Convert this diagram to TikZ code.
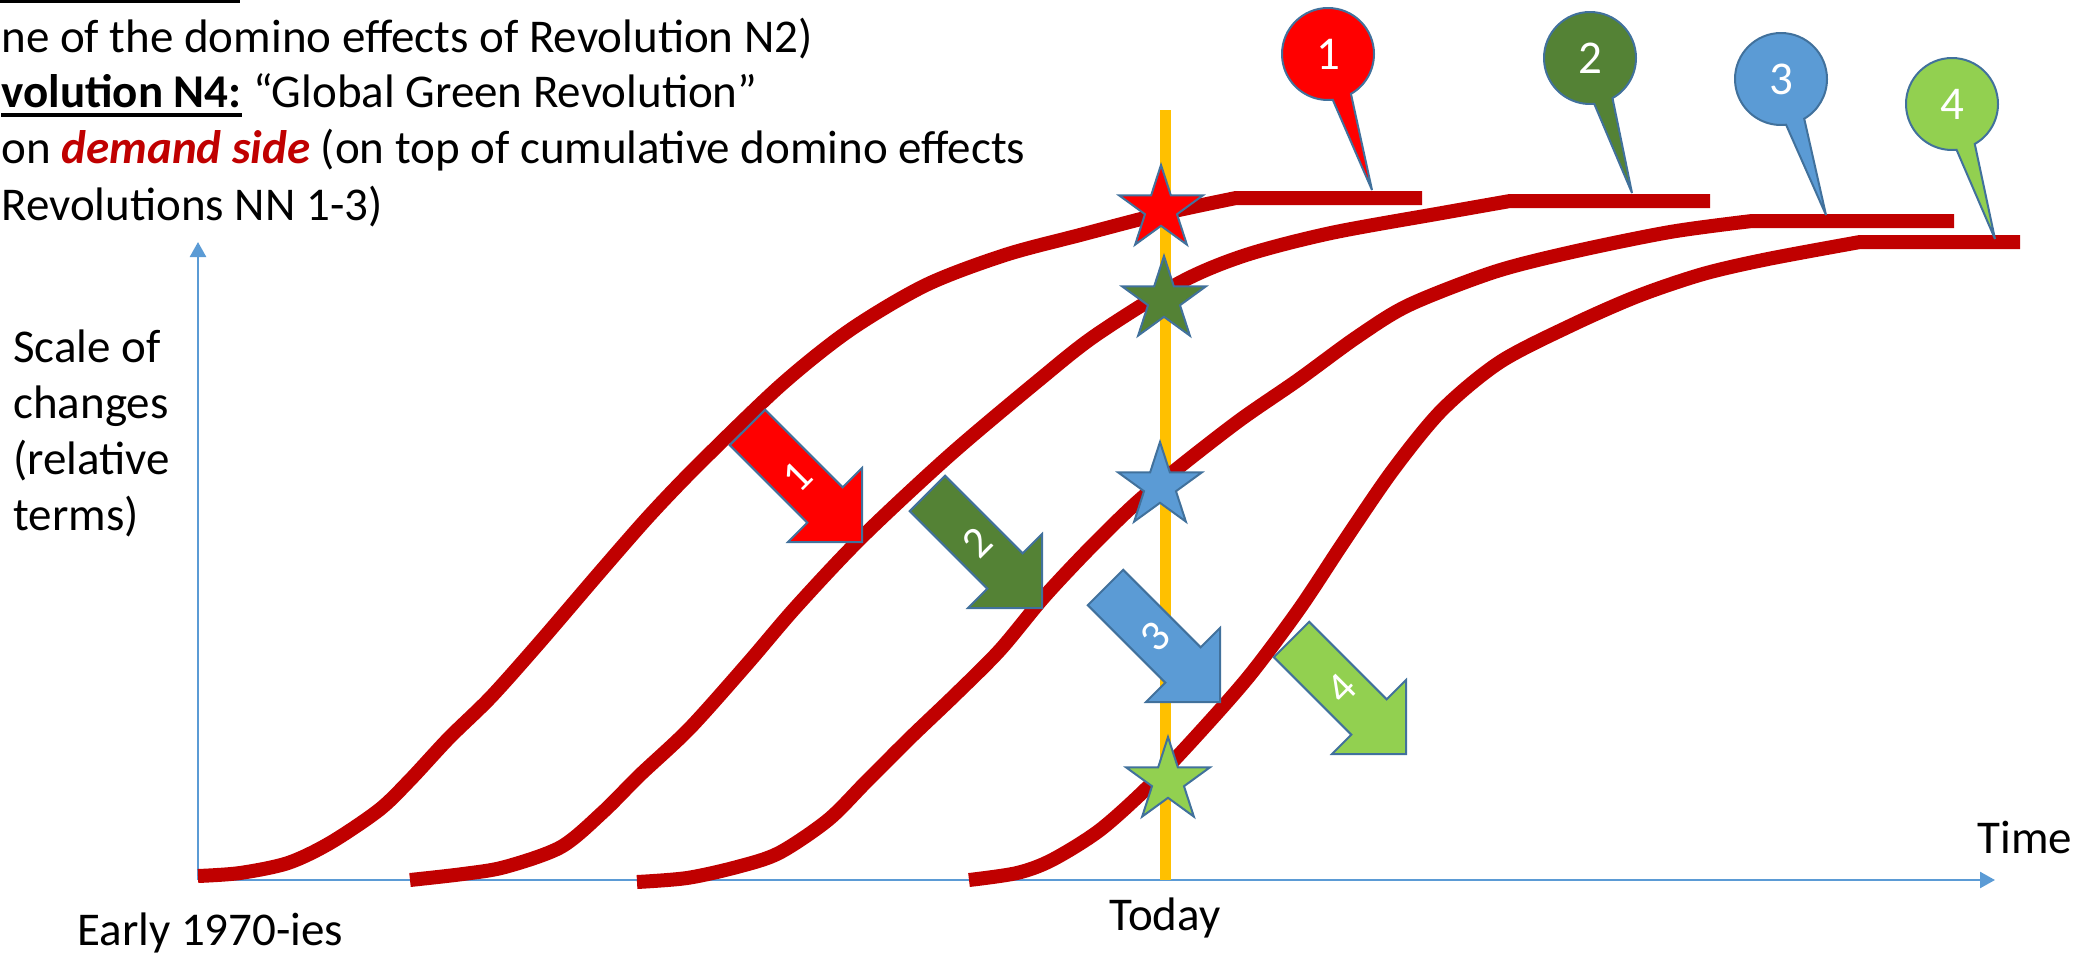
\documentclass[tikz,border=0pt]{standalone}
\usepackage{fontspec}
\setmainfont{Carlito}
\usetikzlibrary{arrows.meta,shapes.geometric,shapes.callouts}
\definecolor{axisblue}{HTML}{5B9BD5}
\definecolor{curvered}{HTML}{C00000}
\definecolor{todayorange}{HTML}{FFC000}
\definecolor{edgeblue}{HTML}{41719C}
\definecolor{revred}{HTML}{FF0000}
\definecolor{revdkgreen}{HTML}{548235}
\definecolor{revblue}{HTML}{5B9BD5}
\definecolor{revltgreen}{HTML}{92D050}
\definecolor{textred}{HTML}{C00000}
\newcommand{\drawrevarrow}[4]{%
  \begin{scope}[shift={#1}, rotate=-45]
    \filldraw[blockarrow, fill=#2] (0,0) -- (-52.3,-52.3) -- (-52.3,-25) -- (-162,-25) -- (-162,25) -- (-52.3,25) -- (-52.3,52.3) -- cycle;
    \node[arrowtxt] (#4) at (-92,0) {#3};
  \end{scope}}
\begin{document}
\begin{tikzpicture}[x=0.5pt,y=-0.5pt,
  txt/.style={inner sep=0pt, anchor=base west, font=\fontsize{23.5pt}{28pt}\selectfont},
  uline/.style={draw=black, line width=1.6pt},
  axisline/.style={draw=axisblue, line width=1.25pt, -{Triangle[length=7.5pt,width=8pt]}},
  todayline/.style={draw=todayorange, line width=5.5pt},
  scurve/.style={draw=curvered, line width=7pt, line join=round},
  blockarrow/.style={draw=edgeblue, line width=1pt, line join=miter},
  arrowtxt/.style={text=white, inner sep=0pt, rotate=45, font=\fontsize{22pt}{26pt}\selectfont},
  revstar/.style={star, star points=5, star point ratio=2.618, minimum size=44pt, inner sep=0pt, draw=edgeblue, line width=1pt},
  balloon/.style={ellipse callout, draw=edgeblue, line width=1pt, minimum width=46pt, minimum height=46pt, inner sep=0pt, callout pointer arc=24, text=white, font=\fontsize{23.5pt}{28pt}\selectfont}]
\useasboundingbox (0,0) rectangle (2074,954);

% top fragment of an underline from the cut-off line above
\coordinate (ulA) at (0,1);
\coordinate (ulB) at (240,1);
\draw[uline] (ulA) -- (ulB);

% text block
\node[txt] (l1) at (1,52) {ne of the domino effects of Revolution N2)};
\node[txt] (l2a) at (1,107) {\bfseries volution N4:};
\node[txt] (l2b) at ([xshift=5.3pt]l2a.base east) {“Global Green Revolution”};
\draw[uline] ([yshift=-4pt]l2a.base west) -- ([yshift=-4pt]l2a.base east);
\node[txt] (l3) at (1,163) {on {\bfseries\itshape\color{textred}demand side} (on top of cumulative domino effects};
\node[txt] (l4) at (1,220) {Revolutions NN 1-3)};

% axis labels
\node[txt] (yl1) at (13,362) {Scale of};
\node[txt] (yl2) at (13,418) {changes};
\node[txt] (yl3) at (13,474) {(relative};
\node[txt] (yl4) at (13,530) {terms)};
\node[txt] (early) at (77,945) {Early 1970-ies};
\node[txt] (today) at (1109,930) {Today};
\node[txt] (time) at (1977,853) {Time};

% axes
\coordinate (origin) at (198,880);
\coordinate (ytop) at (198,242);
\coordinate (xend) at (1995,880);
\draw[axisline] (origin) -- (ytop);
\draw[axisline] (origin) -- (xend);

% today line
\coordinate (todaytop) at (1165,110);
\coordinate (todaybot) at (1165,880);
\draw[todayline] (todaytop) -- (todaybot);

% S-curves
\draw[scurve] plot[smooth] coordinates {(198,876) (240,873) (288,863) (330,843) (379,810) (410,780) (449,738) (491,697) (540,642) (600,572) (650,515) (700,463) (781,385) (850,330) (926,285) (1005,255) (1080,235) (1161,214) (1236,198)} -- (1422,198);
\draw[scurve] plot[smooth] coordinates {(410,880) (463,874) (505,867) (561,847) (603,812) (640,775) (690,728) (748,663) (796,607) (862,537) (950,455) (1039,380) (1096,335) (1181,282) (1246,255) (1331,233) (1442,213) (1510,201)} -- (1710,201);
\draw[scurve] plot[smooth] coordinates {(637,882) (687,878) (737,867) (779,853) (828,820) (866,782) (910,738) (955,695) (1000,650) (1044,597) (1090,548) (1135,504) (1178,468) (1240,420) (1298,380) (1357,337) (1409,305) (1494,272) (1572,252) (1670,232) (1752,221)} -- (1954,221);
\draw[scurve] plot[smooth] coordinates {(969,880) (1017,873) (1052,860) (1100,830) (1150,785) (1200,732) (1250,675) (1300,608) (1345,540) (1393,470) (1442,410) (1500,362) (1572,325) (1638,296) (1703,274) (1768,259) (1860,242)} -- (2020,242);

% block arrows
\drawrevarrow{(862,542)}{revred}{1}{a1}
\drawrevarrow{(1042,608)}{revdkgreen}{2}{a2}
\drawrevarrow{(1220,702)}{revblue}{3}{a3}
\drawrevarrow{(1406,754)}{revltgreen}{4}{a4}

% stars on the today line
\node[revstar, fill=revred] (s1) at (1161,209) {};
\node[revstar, fill=revdkgreen] (s2) at (1164,300) {};
\node[revstar, fill=revblue] (s3) at (1160,486) {};
\node[revstar, fill=revltgreen] (s4) at (1168,781) {};

% balloons
\coordinate (p1) at (1372,190);
\coordinate (p2) at (1632,193);
\coordinate (p3) at (1826,215);
\coordinate (p4) at (1995,239);
\node[balloon, fill=revred, callout absolute pointer={(p1)}] (b1) at (1328,54) {1};
\node[balloon, fill=revdkgreen, callout absolute pointer={(p2)}] (b2) at (1590,58) {2};
\node[balloon, fill=revblue, callout absolute pointer={(p3)}] (b3) at (1781,79) {3};
\node[balloon, fill=revltgreen, callout absolute pointer={(p4)}] (b4) at (1952,104) {4};
\end{tikzpicture}
\end{document}
